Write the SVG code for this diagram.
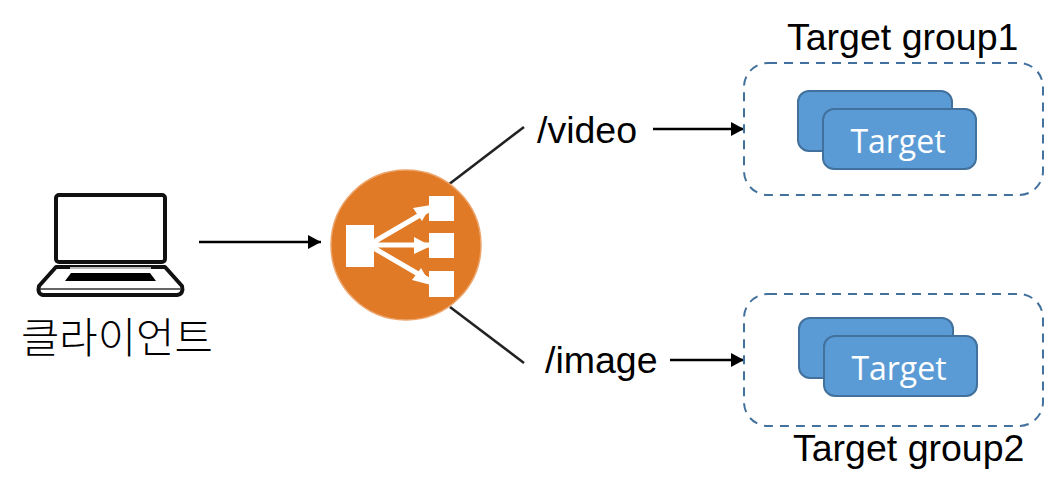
<svg xmlns="http://www.w3.org/2000/svg" width="1049" height="492" viewBox="0 0 1049 492">
<style>
.t{font-family:"Liberation Sans",Arial,sans-serif;font-size:37.5px;fill:#000}
.w{font-family:"Open Sans","Noto Sans",sans-serif;font-size:32px;fill:#fff;text-anchor:middle}
.box{fill:#5b9bd5;stroke:#41719c;stroke-width:2}
.grp{fill:#fff;stroke:#41719c;stroke-width:2;stroke-dasharray:9 7}
.c{fill:none;stroke:#000;stroke-width:2.6}
.l{fill:none;stroke:#222;stroke-width:2.6}
.k{fill:none;stroke:#111;stroke-width:4;stroke-linejoin:round}
</style>
<defs><marker id="a" markerUnits="userSpaceOnUse" markerWidth="14" markerHeight="16" refX="13" refY="8" orient="auto"><path d="M0 1L13 8L0 15Z" fill="#000"/></marker></defs>
<rect width="1049" height="492" fill="#fff"/>
<g id="connectors">
<path class="l" d="M448 185L524 127"/>
<path class="l" d="M450 307L524 363"/>
<path class="c" d="M199 242L321 242" marker-end="url(#a)"/>
<path class="c" d="M653 129L744 129" marker-end="url(#a)"/>
<path class="c" d="M670 360L744 360" marker-end="url(#a)"/>
</g>
<g id="client">
<rect class="k" x="56" y="195" width="109" height="67" rx="3"/>
<path class="k" d="M56 267L39 286Q37 294 43 295L177 295Q184 294 182 286L165 267Z"/>
<path d="M70 268H151" stroke="#bbb" stroke-width="2"/>
<path d="M71 273H150L156 281H65Z" fill="#000"/>
<path d="M40 289H180" stroke="#333" stroke-width="1.5"/>
<text x="21" y="353" style="font-family:'Noto Sans CJK KR',sans-serif;font-size:41.7px;fill:#000;font-weight:300">클라이언트</text>
</g>
<g id="lb">
<circle cx="406" cy="245" r="75" fill="#e07a26" stroke="#eda56c" stroke-width="1.5"/>
<path d="M372 243L432 208M372 245L432 245M372 247L432 282" stroke="#fff" stroke-width="5" fill="none"/>
<path d="M413 208L431 205L422 221ZM414 237L431 246L414 254ZM412 280L431 285L421 268Z" fill="#fff"/>
<rect x="346" y="225" width="28" height="42" fill="#fff"/>
<rect x="429" y="196" width="25" height="25" fill="#fff"/>
<rect x="429" y="233" width="25" height="25" fill="#fff"/>
<rect x="429" y="271" width="25" height="26" fill="#fff"/>
</g>
<g id="path-video"><text class="t" x="537" y="143">/video</text></g>
<g id="path-image"><text class="t" x="545" y="373">/image</text></g>
<g id="group1">
<rect class="grp" x="744" y="63" width="299" height="132" rx="24"/>
<rect class="box" x="798" y="91" width="154" height="60" rx="11"/>
<rect class="box" x="823" y="109" width="153" height="60" rx="11"/>
<text class="w" x="898" y="153">Target</text>
<text class="t" x="787" y="50">Target group1</text>
</g>
<g id="group2">
<rect class="grp" x="744" y="294" width="299" height="132" rx="24"/>
<rect class="box" x="799" y="318" width="154" height="60" rx="11"/>
<rect class="box" x="824" y="336" width="153" height="60" rx="11"/>
<text class="w" x="899" y="380">Target</text>
<text class="t" x="793" y="461">Target group2</text>
</g>
</svg>
